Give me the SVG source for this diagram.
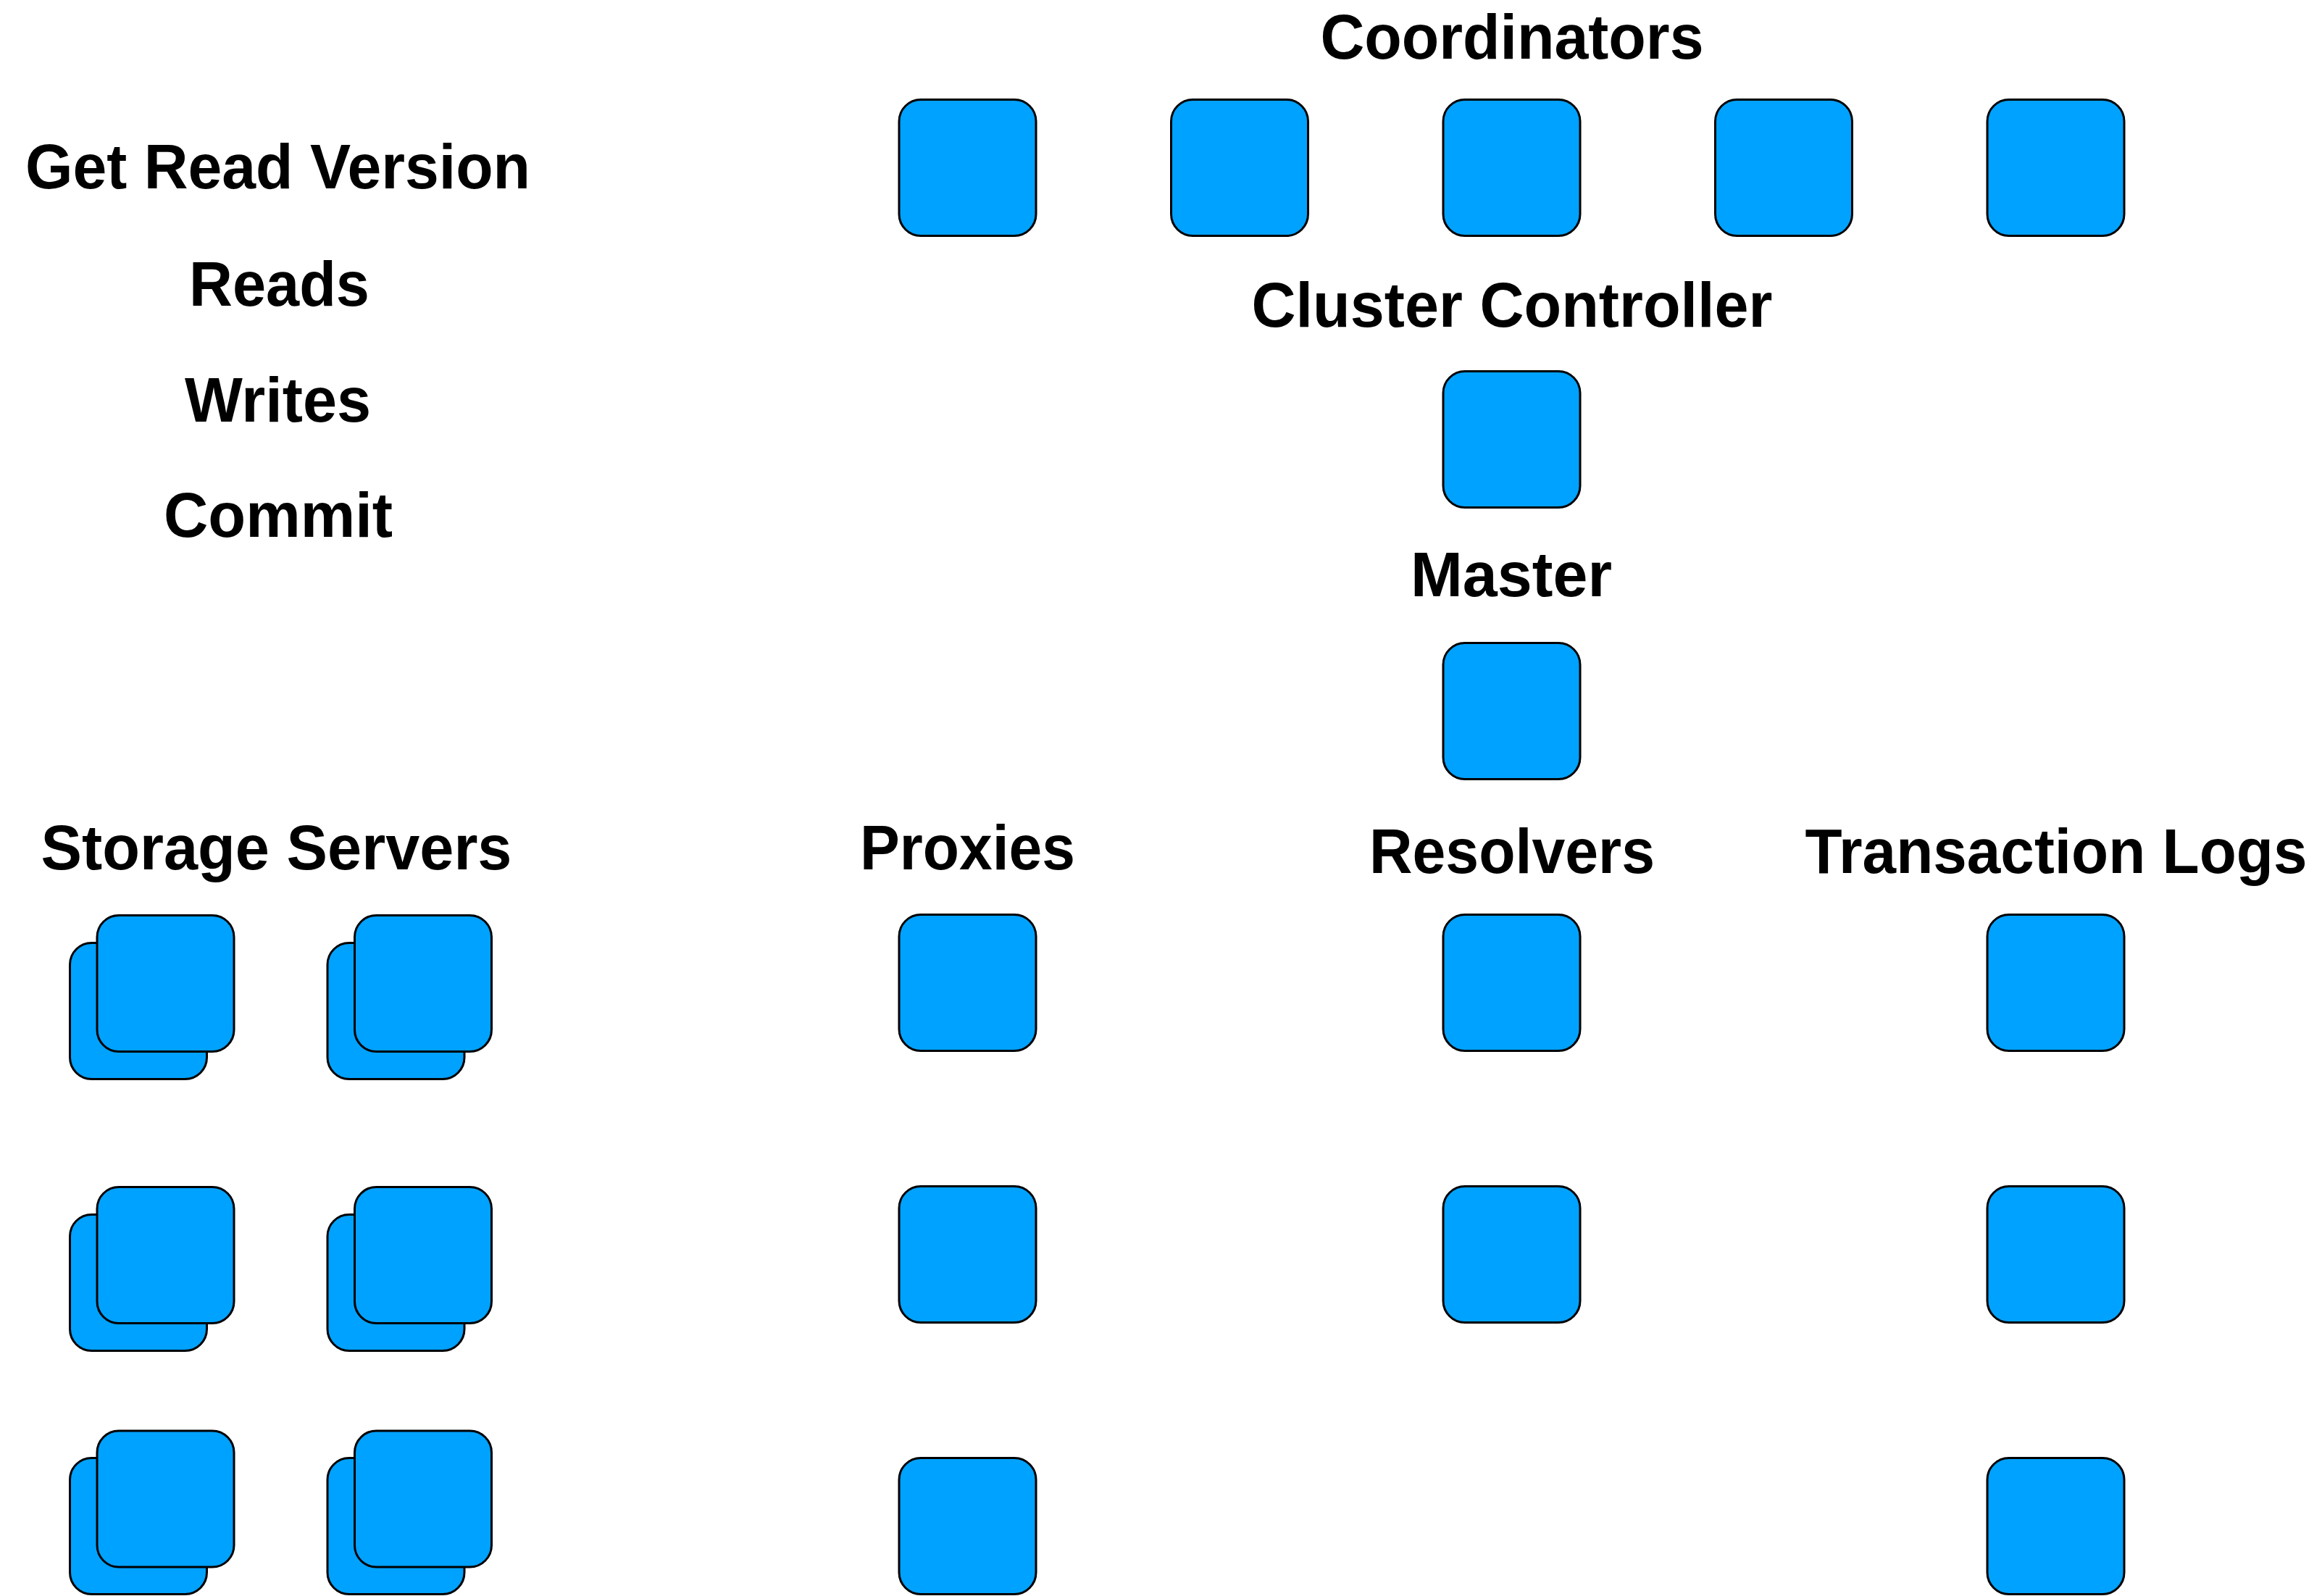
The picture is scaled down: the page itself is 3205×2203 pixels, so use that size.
<svg xmlns="http://www.w3.org/2000/svg" width="3205" height="2203" viewBox="0 0 3205 2203">
  <style>
    .box { fill: #00A2FF; stroke: #000; stroke-width: 3; }
    .label { font-family: "Liberation Sans", Arial, Helvetica, sans-serif; font-weight: bold; font-size: 87px; fill: #000; text-anchor: middle; }
  </style>
  <defs>
    <rect id="cell" class="box" width="189" height="188" rx="30" ry="30"/>
  </defs>
  <rect width="3205" height="2203" fill="#fff"/>

  <!-- phase legend -->
  <g id="legend">
    <text class="label" x="383.5" y="260" textLength="697" lengthAdjust="spacingAndGlyphs">Get Read Version</text>
    <text class="label" x="385.5" y="421.5" textLength="249" lengthAdjust="spacingAndGlyphs">Reads</text>
    <text class="label" x="383.5" y="581.5" textLength="257" lengthAdjust="spacingAndGlyphs">Writes</text>
    <text class="label" x="384" y="741" textLength="316" lengthAdjust="spacingAndGlyphs">Commit</text>
  </g>

  <!-- role headings -->
  <g id="headings">
    <text class="label" x="2087" y="81" textLength="529" lengthAdjust="spacingAndGlyphs">Coordinators</text>
    <text class="label" x="2087" y="451" textLength="719" lengthAdjust="spacingAndGlyphs">Cluster Controller</text>
    <text class="label" x="2086" y="823" textLength="278" lengthAdjust="spacingAndGlyphs">Master</text>
    <text class="label" x="381.5" y="1200" textLength="650" lengthAdjust="spacingAndGlyphs">Storage Servers</text>
    <text class="label" x="1335.5" y="1200" textLength="297" lengthAdjust="spacingAndGlyphs">Proxies</text>
    <text class="label" x="2087" y="1205" textLength="394" lengthAdjust="spacingAndGlyphs">Resolvers</text>
    <text class="label" x="2838" y="1205" textLength="693" lengthAdjust="spacingAndGlyphs">Transaction Logs</text>
  </g>

  <!-- coordinators -->
  <g id="coordinator-1"><use href="#cell" x="1241" y="137.5"/></g>
  <g id="coordinator-2"><use href="#cell" x="1616.5" y="137.5"/></g>
  <g id="coordinator-3"><use href="#cell" x="1992" y="137.5"/></g>
  <g id="coordinator-4"><use href="#cell" x="2367.5" y="137.5"/></g>
  <g id="coordinator-5"><use href="#cell" x="2743" y="137.5"/></g>

  <!-- cluster controller and master -->
  <g id="cluster-controller"><use href="#cell" x="1992" y="512.5"/></g>
  <g id="master"><use href="#cell" x="1992" y="887.5"/></g>

  <!-- proxies -->
  <g id="proxy-1"><use href="#cell" x="1241" y="1262.5"/></g>
  <g id="proxy-2"><use href="#cell" x="1241" y="1637.5"/></g>
  <g id="proxy-3"><use href="#cell" x="1241" y="2012.5"/></g>

  <!-- resolvers -->
  <g id="resolver-1"><use href="#cell" x="1992" y="1262.5"/></g>
  <g id="resolver-2"><use href="#cell" x="1992" y="1637.5"/></g>

  <!-- transaction logs -->
  <g id="tlog-1"><use href="#cell" x="2743" y="1262.5"/></g>
  <g id="tlog-2"><use href="#cell" x="2743" y="1637.5"/></g>
  <g id="tlog-3"><use href="#cell" x="2743" y="2012.5"/></g>

  <!-- storage servers: stacked pairs (back card, then front card) -->
  <g id="storage-1-1"><use href="#cell" x="96.5" y="1301.5"/><use href="#cell" x="134" y="1263.5"/></g>
  <g id="storage-1-2"><use href="#cell" x="452" y="1301.5"/><use href="#cell" x="489.5" y="1263.5"/></g>
  <g id="storage-2-1"><use href="#cell" x="96.5" y="1676.5"/><use href="#cell" x="134" y="1638.5"/></g>
  <g id="storage-2-2"><use href="#cell" x="452" y="1676.5"/><use href="#cell" x="489.5" y="1638.5"/></g>
  <g id="storage-3-1"><use href="#cell" x="96.5" y="2012.5"/><use href="#cell" x="134" y="1975"/></g>
  <g id="storage-3-2"><use href="#cell" x="452" y="2012.5"/><use href="#cell" x="489.5" y="1975"/></g>

  <g id="connectors"/>
</svg>
